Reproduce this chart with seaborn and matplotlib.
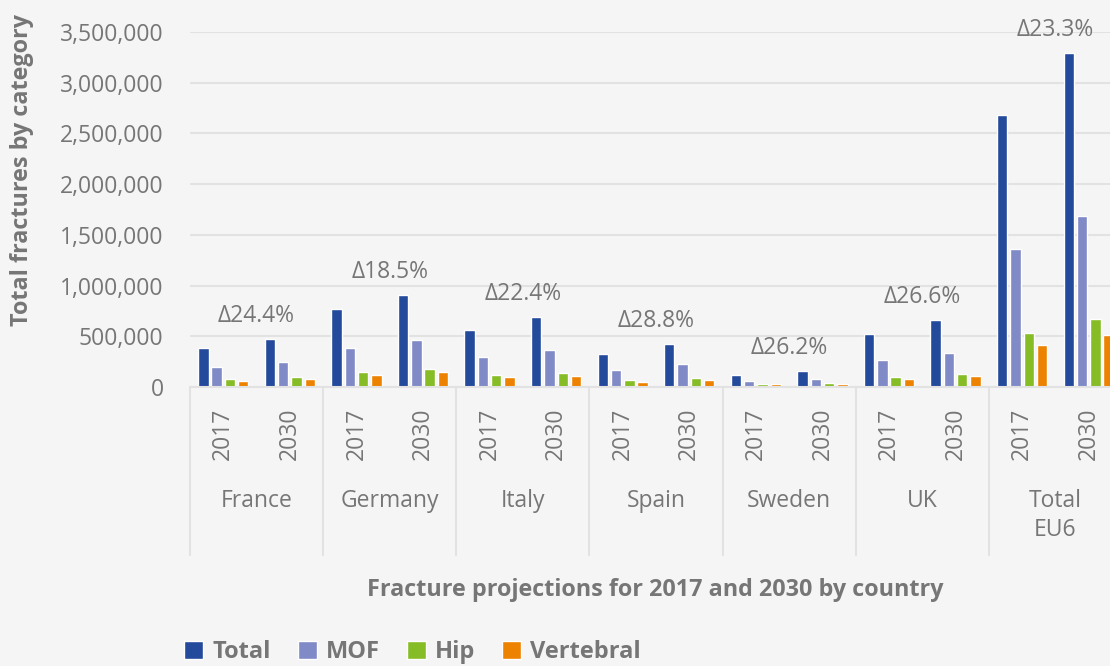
import pandas as pd
import matplotlib.pyplot as plt
import matplotlib.transforms as mtransforms
from matplotlib.ticker import FuncFormatter
import seaborn as sns

# --- Data ---
countries = ["France", "Germany", "Italy", "Spain", "Sweden", "UK", "Total\nEU6"]
years = ["2017", "2030"]
categories = ["Total", "MOF", "Hip", "Vertebral"]

total_2017 = [380000, 768000, 561000, 325000, 118000, 522000, 2677000]
total_2030 = [473000, 906000, 689000, 423000, 157000, 660000, 3297000]
mof_2017 = [197000, 384000, 295000, 167000, 59000, 266000, 1358000]
mof_2030 = [246000, 463000, 364000, 226000, 79000, 335000, 1683000]
hip_2017 = [79000, 148000, 118000, 69000, 33000, 98000, 531000]
hip_2030 = [98000, 177000, 138000, 89000, 35000, 128000, 669000]
vert_2017 = [59000, 118000, 98000, 49000, 25000, 79000, 413000]
vert_2030 = [79000, 148000, 108000, 69000, 33000, 108000, 512000]

deltas = ["Δ24.4%", "Δ18.5%", "Δ22.4%", "Δ28.8%", "Δ26.2%", "Δ26.6%", "Δ23.3%"]

colors = ["#244a9b", "#7f8ac6", "#86bc25", "#ed8200"]
text_color = "#767676"
bg = "#f5f5f5"
grid_color = "#e2e2e2"

series = {
    "Total": (total_2017, total_2030),
    "MOF": (mof_2017, mof_2030),
    "Hip": (hip_2017, hip_2030),
    "Vertebral": (vert_2017, vert_2030),
}

rows = []
slots = []
for i, c in enumerate(countries):
    for j, y in enumerate(years):
        slot = f"{c} {y}"
        slots.append(slot)
        for cat in categories:
            rows.append({"slot": slot, "category": cat, "value": series[cat][j][i]})
df = pd.DataFrame(rows)

sns.set_theme(style="white")
plt.rcParams["font.family"] = ["Open Sans", "DejaVu Sans"]

W, H = 1110, 666
fig = plt.figure(figsize=(W / 100, H / 100), dpi=100, facecolor=bg)
ax_left, ax_right, ax_top, ax_bot = 190, 1110, 32, 387
ax = fig.add_axes([ax_left / W, 1 - ax_bot / H, (ax_right - ax_left) / W, (ax_bot - ax_top) / H])
ax.set_facecolor(bg)

sns.barplot(data=df, x="slot", y="value", hue="category", order=slots,
            hue_order=categories, palette=colors, width=0.8, gap=0.22,
            saturation=1, ax=ax)

ax.set_ylim(0, 3500000)
ax.set_xlim(-0.5, 13.32)
ax.set_yticks(range(0, 3500001, 500000))
ax.yaxis.set_major_formatter(FuncFormatter(lambda v, p: f"{int(v):,}"))
ax.grid(axis="y", color=grid_color, linewidth=1.5)
ax.set_axisbelow(True)
for s in ["left", "right", "top"]:
    ax.spines[s].set_visible(False)
ax.spines["bottom"].set_color(grid_color)
ax.spines["bottom"].set_linewidth(1.5)

ax.set_xticks(range(len(slots)))
ax.set_xticklabels([y for c in countries for y in years], rotation=90)
ax.tick_params(axis="x", length=0, pad=15, labelsize=16.5, labelcolor=text_color)
ax.tick_params(axis="y", length=0, pad=19, labelsize=16.5, labelcolor=text_color)
ax.set_xlabel("")
ax.set_ylabel("")

# country labels and separators
trans = mtransforms.blended_transform_factory(ax.transData, ax.transAxes)
span = ax_bot - ax_top
for i, c in enumerate(countries):
    ax.text(2 * i + 0.5, (ax_bot - 489) / span, c, transform=trans, ha="center",
            va="top", fontsize=16.5, color=text_color, linespacing=1.25)
for k in range(len(countries)):
    ax.plot([2 * k - 0.5, 2 * k - 0.5], [0, (ax_bot - 555) / span], transform=trans,
            color=grid_color, linewidth=1.5, clip_on=False)

# delta annotations above each country group
for i, d in enumerate(deltas):
    top = max(total_2017[i], total_2030[i])
    ax.annotate(d, xy=(2 * i + 0.5, top), xytext=(0, 16.5), textcoords="offset points",
                ha="center", va="center", fontsize=16.5, color=text_color)

fig.text(22 / W, 1 - 170 / H, "Total fractures by category", rotation=90, ha="center",
         va="center", fontsize=16.8, fontweight="bold", color=text_color)
fig.text(655 / W, 1 - 590 / H, "Fracture projections for 2017 and 2030 by country",
         ha="center", va="center", fontsize=16.8, fontweight="bold", color=text_color)

handles, labels = ax.get_legend_handles_labels()
ax.get_legend().remove()
leg = fig.legend(handles, labels, loc="lower left", bbox_to_anchor=(163 / W, -0.029), ncol=4,
                 frameon=False, handlelength=0.8, handleheight=0.8, handletextpad=0.38,
                 columnspacing=1.15, prop={"weight": "bold", "size": 17})
for t in leg.get_texts():
    t.set_color(text_color)

fig.savefig("out.png", dpi=100, facecolor=bg)
